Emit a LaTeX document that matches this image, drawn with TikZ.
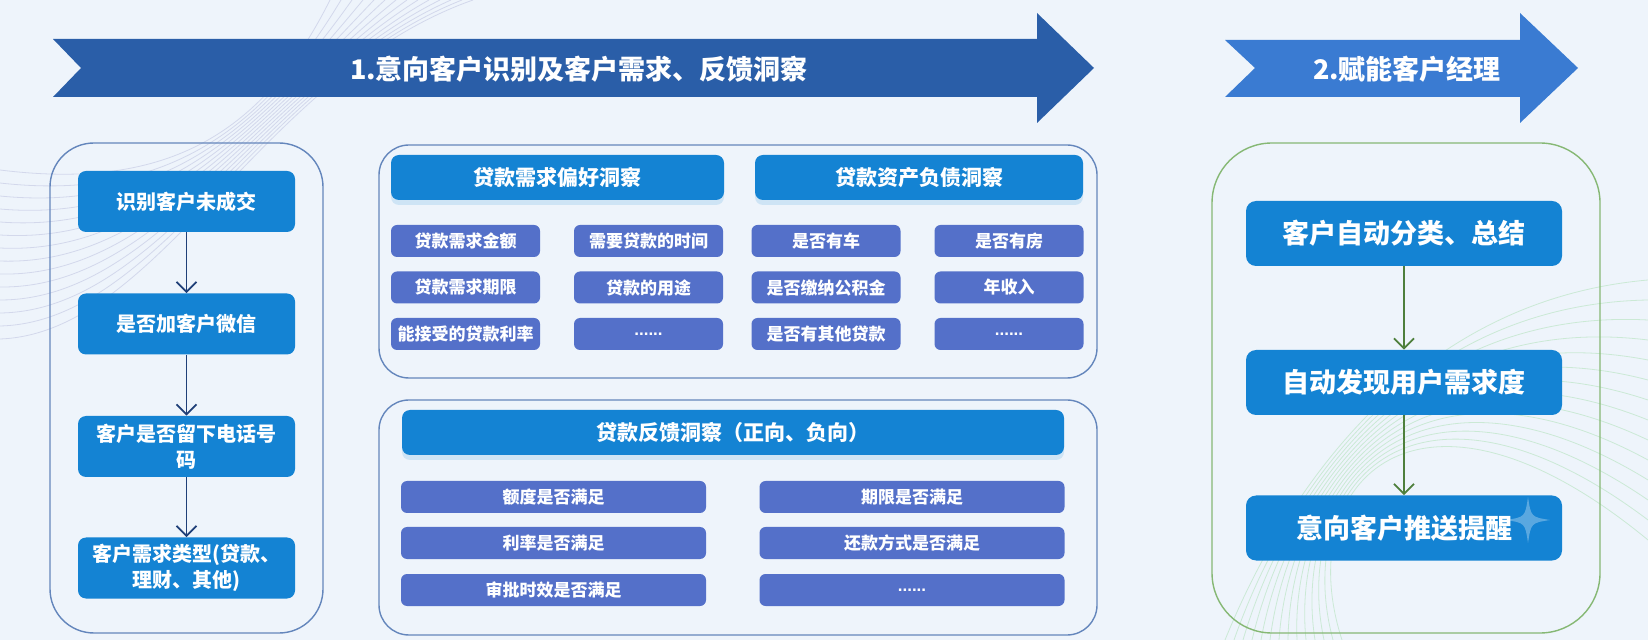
\documentclass[tikz,border=0pt]{standalone}
\usepackage{fontspec}
\setmainfont{Noto Sans CJK SC}
\newfontfamily\latinfont{Liberation Sans}
\usepackage{tikz}
\usetikzlibrary{arrows.meta,shadows}

\definecolor{bgcol}{HTML}{EEF4FB}
\definecolor{arrowA}{HTML}{2A5EA8}
\definecolor{arrowB}{HTML}{3A7BD2}
\definecolor{boxblue}{HTML}{1483D3}
\definecolor{itemblue}{HTML}{5470C9}
\definecolor{navy}{HTML}{1F3F78}
\definecolor{frameblue}{HTML}{6486BC}
\definecolor{framegreen}{HTML}{86B874}
\definecolor{arrowgreen}{HTML}{4E7F3C}

\newcommand{\moredots}{{\latinfont\bfseries ......}}

\tikzset{
  stepbox/.style={fill=boxblue, rounded corners=4pt, text=white, align=center,
    inner sep=0pt, minimum width=108.5pt, minimum height=30.5pt,
    font=\bfseries\fontsize{10}{13}\selectfont},
  headbox/.style={fill=boxblue, rounded corners=4pt, text=white, inner sep=0pt,
    minimum height=22.5pt, font=\bfseries\fontsize{10.5}{13}\selectfont,
    drop shadow={shadow xshift=0pt, shadow yshift=-2.5pt, fill=boxblue!60, opacity=0.25}},
  itembox/.style={fill=itemblue, rounded corners=3pt, text=white, inner sep=0pt,
    minimum width=74.5pt, minimum height=16pt, font=\bfseries\fontsize{8.5}{10}\selectfont},
  widebox/.style={itembox, minimum width=152.5pt},
  flowbox/.style={fill=boxblue, rounded corners=5pt, text=white, inner sep=0pt,
    minimum width=158pt, minimum height=32.5pt, font=\bfseries\fontsize{13.5}{16}\selectfont},
  flowline/.style={navy, line width=0.9pt, -{Straight Barb[length=5pt,width=10pt]}},
  greenline/.style={arrowgreen, line width=0.9pt, -{Straight Barb[length=5pt,width=10pt]}},
  wave/.style={blue!30!gray, opacity=0.18, line width=0.4pt},
  wavegreen/.style={green!50!gray, opacity=0.2, line width=0.4pt},
}

\begin{document}
\begin{tikzpicture}[x=0.5pt, y=-0.5pt]
    \useasboundingbox (0,0) rectangle (1648,640);
    \fill[bgcol] (0,0) rectangle (1648,640);

    % background waves
    \foreach \i in {0,...,13}
        \draw[wave] (0,{170+\i*13}) .. controls (160,{190+\i*11}) and (260,{140-\i*5}) .. ({330+\i*11},0);
    \foreach \i in {0,...,13}
        \draw[wavegreen] ({1225+\i*9},640) .. controls (1290,480) and (1420,{300+\i*4}) .. (1648,{280+\i*20});

    % top arrows
    \fill[arrowA] (53,39) -- (1037,39) -- (1037,13) -- (1094,68) -- (1037,123)
        -- (1037,97) -- (53,97) -- (81,68) -- cycle;
    \node[text=white, font=\bfseries\fontsize{13.5}{16}\selectfont] (title1) at (579,69)
        {1.意向客户识别及客户需求、反馈洞察};
    \fill[arrowB] (1225,40) -- (1520,40) -- (1520,13) -- (1578,68) -- (1520,123)
        -- (1520,97) -- (1225,97) -- (1255,68) -- cycle;
    \node[text=white, font=\bfseries\fontsize{13.5}{16}\selectfont] (title2) at (1407,69)
        {2.赋能客户经理};

    % panels
    \draw[frameblue, line width=0.7pt, rounded corners=22pt] (50,143) rectangle (323,633);
    \draw[frameblue, line width=0.7pt, rounded corners=15pt] (379,145) rectangle (1097,378);
    \draw[frameblue, line width=0.7pt, rounded corners=15pt] (379,400) rectangle (1097,635);
    \draw[framegreen, line width=0.7pt, rounded corners=30pt] (1212,143) rectangle (1600,633);

    % left flow
    \node[stepbox] (s1) at (186.5,201.5) {识别客户未成交};
    \node[stepbox] (s2) at (186.5,324) {是否加客户微信};
    \node[stepbox] (s3) at (186.5,446.5) {客户是否留下电话号\\码};
    \node[stepbox] (s4) at (186.5,568) {客户需求类型(贷款、\\理财、其他)};
    \draw[flowline] (s1) -- (s2);
    \draw[flowline] (s2) -- (s3);
    \draw[flowline] (s3) -- (s4);

    % loan demand / assets
    \node[headbox, minimum width=166.5pt] (h1) at (557.5,177.5) {贷款需求偏好洞察};
    \node[headbox, minimum width=164pt] (h2) at (919,177.5) {贷款资产负债洞察};
    \node[itembox] (p1) at (465.5,241) {贷款需求金额};
    \node[itembox] (p2) at (648.5,241) {需要贷款的时间};
    \node[itembox] (p3) at (465.5,287.5) {贷款需求期限};
    \node[itembox] (p4) at (648.5,287.5) {贷款的用途};
    \node[itembox] (p5) at (465.5,334) {能接受的贷款利率};
    \node[itembox] (p6) at (648.5,334) {\moredots};
    \node[itembox] (a1) at (826,241) {是否有车};
    \node[itembox] (a2) at (1009,241) {是否有房};
    \node[itembox] (a3) at (826,287.5) {是否缴纳公积金};
    \node[itembox] (a4) at (1009,287.5) {年收入};
    \node[itembox] (a5) at (826,334) {是否有其他贷款};
    \node[itembox] (a6) at (1009,334) {\moredots};

    % loan feedback
    \node[headbox, minimum width=331pt] (h3) at (733,432.5) {贷款反馈洞察（正向、负向）};
    \node[widebox] (f1) at (553.5,497) {额度是否满足};
    \node[widebox] (f2) at (912,497) {期限是否满足};
    \node[widebox] (f3) at (553.5,543) {利率是否满足};
    \node[widebox] (f4) at (912,543) {还款方式是否满足};
    \node[widebox] (f5) at (553.5,590) {审批时效是否满足};
    \node[widebox] (f6) at (912,590) {\moredots};

    % right flow
    \node[flowbox] (r1) at (1404,233.5) {客户自动分类、总结};
    \node[flowbox] (r2) at (1404,382.5) {自动发现用户需求度};
    \node[flowbox] (r3) at (1404,528) {意向客户推送提醒};
    \draw[greenline] (r1) -- (r2);
    \draw[greenline] (r2) -- (r3);

    % sparkle
    \fill[white, opacity=0.3] (1528,497) .. controls (1531,517) .. (1550,520)
        .. controls (1531,523) .. (1528,543) .. controls (1525,523) .. (1506,520)
        .. controls (1525,517) .. cycle;

\end{tikzpicture}
\end{document}
